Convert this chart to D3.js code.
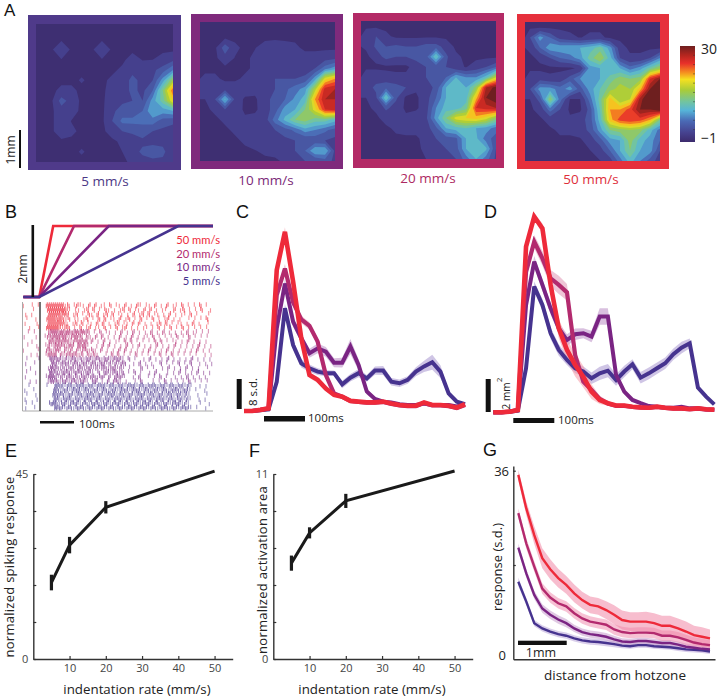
<!DOCTYPE html>
<html>
<head>
<meta charset="utf-8">
<script src="https://cdn.jsdelivr.net/npm/d3@7"></script>
<style>
    html, body { margin: 0; padding: 0; background: white; }
    text { font-family: "Open Sans", sans-serif; }
</style>
</head>
<body>
<script>
// panel A, value grids 14 x 14, row by row from the top
var heat5 = [
    0,0,0,0,0,0,0,0,0,0,0,0,0,0,
    0,0,0,0,0,0,0,0,0,0,0,0,0,0,
    0,0,2.9,0,0,0,2.9,0,0,0,0,0,0,0,
    0,0,0.4,0,0,0,0.3,0,0,1.5,0.4,0.5,1.5,2.5,
    0,0,0,0,0,0,0,0,1,2.5,2,2.5,4,7,
    0,0,0,0,0.7,0,0,1,2,3.5,2.5,3,8,15,
    0,0,1,1,0,0,0,1.5,2,3.5,2.5,5,13,23,
    0,0,4,2,0,0,0,2,2.5,3,3,8,12,19,
    0,0,2,1.5,0,0,0,2.5,4,4,5,9,8,9,
    0,0,2,0.4,0,0,0,3,5.5,5.5,5.5,6,4,3.5,
    0,0,2,1,0,0,0,1.5,3,3.5,4,3,2.5,2,
    0,0,0,0,0,0,0,0,1,1.5,2.5,2.5,2.5,1.5,
    0,0,0,0,0.7,0,0,0,0.5,2,3.5,4,3.5,1.5,
    0,0,0,0,0,0,0,0,0,1,2,2.5,2.5,1.5
];
var heat10 = [
    0,0,0,0,0,0,0,0,0,0,0,0,0,0,
    0,0,0,0,0,0,0,0,0,0,0,0,0,0,
    0,0,4.5,1,0,0.4,1.5,2,1.5,1,0,0,0,0,
    0,0,2,0.4,0,1,2,2.5,2.5,2,1.5,1.5,2,2.5,
    0,0,0,0,0,1,2,2.5,2.5,2,2,3,6,8,
    1,1,0,0,1,2,2.5,3,3,3,3.5,8,18,21,
    1.5,2.5,2,2,2,1.5,2.5,3,4.5,6,8,16,26,27,
    0.5,3,9.5,2.5,0,0,2.5,3.5,5,7.5,10,21,27,27,
    0,1,3,2,0,0,2,4,8,9,13,18,25,26,
    0,0,1,1.5,1,1.5,2,6,9.5,13,14,12,12,10,
    0,0,0,1,2,2.5,2.5,3,4,5.5,8,7,5.5,4,
    0,0,0,0,1,2,2.5,2.5,2.5,3,3,3.5,3,2.5,
    0,0,0,0,0,0.4,1,1.5,2,3,5,9,9,2.5,
    0,0,0,0,0,0,0,0,1,2,3,3,4,2.5
];
var heat20 = [
    0,0,0,0,0,0,0,0,0,0,0,0,0,0,
    2,3,1,0,0,0,0,0,0,0,0,0,0,0,
    0.8,3.5,3,3.5,3,3,4,4,2,0,0,0,0,0,
    0,1.5,4,3,3,4,4,11,3.5,1,0,0,0,0,
    0,0,0,0,0,1.5,3,3.5,3,1,0.4,1.5,3,5,
    2,2,1.5,1,1,1,3,3,5,9,7,7,10,17,
    2,3.5,4.5,4,3,1,2,3.5,9,9.5,9,14,27,30,
    0.5,2.5,11,3.5,0,0,2,5,9,9.5,10,20,29,31,
    0,1,3.5,2,0,0,2,7,10,10,12,25,26,27,
    0,0,1.5,1.5,1,2,2.5,8,13,18,19,20,18,14,
    0,0,0,1,1.5,1.5,2,4.5,9,10,11,9,8,6,
    0,0,0,0,0,0,1.5,3,4,4.5,9,9.5,6,4,
    0,0,0,0,0,0,1,2,3,4,9,10,9.5,3,
    0,0,0,0,0,0,0.5,1,2,3,6,9,6,2.5
];
var heat50 = [
    0,0,0,0,0,0,0,0,0,0,0,0,0,0,
    3,8,5,2,1,0.4,1,1,0,0,0,0,0,0,
    1,5,8.5,8.5,9,9,10,12,8,1.5,0,0,0,0,
    0,1,3,5,6,8,12,15,10,3,1,1,3,7,
    0,0,0,0,0,1,8,9,9,9,6,8,12,15,
    2,2,1,1.5,4,7,8,9,12,14,13,14,25,29,
    3,8,8,6,8,4,8,11,14,16,15,20,29,31,
    0.5,4,14,6,0.4,0.4,6,12,20,15,17,28,32,33,
    0,1.5,6,3,0,0,4,11,21,21,24,29,29,31,
    0,0,1.5,2,1,2,4,10,20,24,25,24,21,13,
    0,0,0,1,1,2,3.5,8,13,14,15,14,10,6,
    0,0,0,0,0,0,2,4,8,9,14,10,8,5,
    0,0,0,0,0,0,0.4,2,5,9,13,9,8,3,
    0,0,0,0,0,0,0,0.4,2,6,10,7,4,2
];
var heatLevels = [0.5, 3, 5, 7, 9, 11, 13, 15, 17, 19, 21, 23, 25, 27, 29];
var rampValues = [-1, 2, 5.8, 9.2, 12, 15.7, 19.2, 21.6, 24.4, 27, 30];
var rampColors = ["#3c2b6c", "#46428f", "#4a6ab5", "#56b4d8", "#72c4a0", "#a8cc3a", "#f5e020", "#f58a20", "#e8302a", "#b5261f", "#6e1f1f"];
var heatLabels = ["5 mm/s", "10 mm/s", "20 mm/s", "50 mm/s"];

// the four indentation rates, slowest first
var rates = [5, 10, 20, 50];
var rateColors = ["#46338f", "#7a2483", "#b32a6e", "#ee2a3a"];
var frameColors = ["#4f3a8a", "#7f2a7c", "#b32a66", "#e6303c"];

// panel B, one string per trial, one digit per 8.6 ms bin = spikes in that bin
var rasterRed = [
    "1..1.1..33333312.1211.2.2.11.2.11.2.1.21.11.2.1.2.11.2.1.1.2.1.1",
    "...1....33333321.11.12.2.1.21.1.12.2.11.2.2.1.11..2.12.1.1.2..1.1",
    "1.1.....3333232.12.1.21.2.12.2.11.1.2.12.2.11.1.2.1.11.2.1...1.1.",
    ".1..1...33323212.11.12.1.2.2.11.2.12.1.2.1.2.1.12.1.1..1.1.1.2.1.",
    "1...1...3333321.12.2.11.2.2.1.12.11.2.2.1.1.12.2.1.11.1.2.1..1.1.",
    "..1..1..33332122.1.2.12.11.2.1.2.12.1.1.11.1.2.1.2.1.2.1.1.1.1.1"
];
var rasterCrimson = [
    ".1.1....23323232232322.1.2.11.1.2.1.2.1.1.2.1.2.1.1.1.2.11.1.1",
    "1...1..1223323212322.21.2.2.1.1.2.1.2.1.11.2.1.1.1.2.1.2.1.1.1.",
    "..1.....3223232122323.2.1.2.1.11.2.2.1.1.1.2.2.1.11.1.2.1.1.1.1.",
    ".1..1..1212322132.3231..1.2.2.1.1.2.1.2.1.1.2.1.1.2.1.1.1.2.1.1",
    "1....1..22132.212.2122121.2.1.1.2.2.1.1.1.2.1.1.2.1.1.1.1.2.1.1",
    "..1.1..1323.21222212.2121..1.2.2.1.1.2.1.1.1.2.1.2.1.1.1.1..1.1."
];
var rasterPurple = [
    ".1...1...3222121221212212212212221.2.1..1.2.1.1.2.1.1.1.2.1.1.1.",
    "1..1.....3212221221221221221212122..1.2.1.1..2.1.1.2.1.2..1.1.1",
    "..1.....13221212212212212122122121.1...2.1.1..1.2.1.1.2.1.1..1.",
    ".1..1....322122212221221.2.2212212.1.2.1..1.2...1.1.2.1.1.2.1.1",
    "1......13321212212122122122.2.2221..1.2..1.1.2.1..1.1.2.1.1.1..",
    "..1.1...13221221221221.22.1.2.221.1..1.2...1.1.2.1.1.1.2.1.1.1"
];
var rasterBlue = [
    ".1.....1..3221221222122122212212212221221222122122122121..1.1.1",
    "1..1......3212212221221221221221222122212212212212221221.1..1.",
    ".1..1.....3222122122122212212221221221222122122122122121..1..1",
    "1...1.....3212221221222122122122212212221221222122122121..1.1.",
    ".1.1.....23212212221221222122122212212212221221221222121...1..1",
    "1..1......3221221222122122212212212221222122122212212221.1..1."
];
// per trial shift in bins, the trials do not start on a common grid
var trialShift = [0, 0.4, 0.8, 0.2, 0.6, 0.1, 0.7, 0.3, 0.9, 0.5, 0, 0.6, 0.2, 0.8, 0.4, 0.1, 0.7, 0.3, 0.9, 0.5, 0.2, 0.6, 0, 0.8];

// panel C, imaging response in s.d., one sample each 20 ms
var sampleTimes = d3.range(0, 560, 20);
var cBlue = [0,0,0.2,0.4,7.8,27.4,17.6,12.7,11.4,10.5,10.1,10.1,7.1,8.9,10.1,8.7,10.8,10.8,7.8,7.4,8.3,10.5,11.9,13,10.5,4.7,2.5,1.8];
var cPurple = [0,0,0.3,0.7,22,34,23.8,19.4,15.4,16.7,15.8,12.9,12.9,17.2,12.3,5.2,3.2,2.5,2.3,1.8,1.6,1.6,2,1.6,1.6,1.6,1.2,1.8];
var cCrimson = [0,0,0.3,0.7,30.9,38,29,24.4,22.7,18.5,9.6,4.7,3.8,2.7,2.4,2.2,2.2,2.4,1.9,1.5,1.3,1.3,2.1,1.5,1.5,1.3,0.8,1.6];
var cRed = [0,0,0.3,0.7,37.6,47.8,34.5,19.4,9.6,8.3,6,4.3,3.8,2.7,2.5,2.3,2.3,2.5,2,1.6,1.4,1.4,2.3,1.6,1.6,1.4,0.9,1.8];
var cBlueErr = [0,0,0,0.2,0.8,1.2,1.3,1.1,1,0.9,0.8,0.7,1,1,1.1,0.9,1.1,1.2,1,1,1,1.2,1.5,2,1.7,0.8,0.4,0.3];
var cPurpleErr = [0,0,0,0.2,1,1.3,1.3,1.2,1.2,1.3,1.3,1.2,1.3,2,1.5,0.8,0.4,0.3,0.2,0.2,0.2,0.2,0.2,0.2,0.2,0.2,0.2,0.2];
var cCrimsonErr = [0,0,0,0.2,1,1.2,1.2,1,1,1,0.9,0.6,0.4,0.3,0.2,0.2,0.2,0.2,0.2,0.2,0.2,0.2,0.2,0.2,0.2,0.2,0.2,0.2];
var cRedErr = [0,0,0,0.2,1,1.2,1.2,0.9,0.8,0.8,0.8,0.5,0.3,0.2,0.2,0.2,0.2,0.2,0.2,0.2,0.2,0.2,0.2,0.2,0.2,0.2,0.2,0.2];

// panel D, activated area in mm2
var dBlue = [0,0,0.04,0.1,2.67,7.62,6.51,4.79,3.78,3.17,2.67,2.47,2.06,2.36,2.52,1.96,2.47,2.91,2.1,2.36,2.67,2.97,3.52,3.92,4.18,1.5,0.95,0.48];
var dPurple = [0,0,0.04,0.14,6.5,9.13,7.72,6.3,5.09,4.38,4.73,4.79,4.59,5.8,5.8,2.26,1.25,0.75,0.55,0.38,0.34,0.28,0.28,0.34,0.24,0.24,0.18,0.16];
var dCrimson = [0,0,0.04,0.14,8.5,10.34,9.33,8.12,7.72,7.27,3.47,1.86,1.35,0.81,0.53,0.39,0.39,0.32,0.28,0.26,0.32,0.26,0.22,0.22,0.18,0.22,0.16,0.14];
var dRed = [0,0,0.04,0.14,10.04,11.86,11.15,7.72,5.09,3.78,2.87,2.16,1.25,0.75,0.55,0.41,0.41,0.34,0.3,0.28,0.34,0.28,0.24,0.24,0.2,0.24,0.18,0.16];
var dBlueErr = [0,0,0,0.02,0.2,0.3,0.35,0.35,0.35,0.3,0.3,0.3,0.35,0.4,0.4,0.35,0.35,0.3,0.35,0.35,0.35,0.35,0.35,0.35,0.3,0.15,0.1,0.05];
var dPurpleErr = [0,0,0,0.02,0.3,0.35,0.35,0.35,0.35,0.35,0.35,0.3,0.35,0.5,0.5,0.25,0.15,0.1,0.05,0.05,0.05,0.05,0.05,0.05,0.05,0.05,0.05,0.05];
var dCrimsonErr = [0,0,0,0.02,0.35,0.4,0.45,0.5,0.55,0.5,0.3,0.15,0.1,0.05,0.05,0.05,0.05,0.05,0.05,0.05,0.05,0.05,0.05,0.05,0.05,0.05,0.05,0.05];
var dRedErr = [0,0,0,0.02,0.2,0.2,0.3,0.5,0.6,0.65,0.7,0.65,0.45,0.25,0.15,0.1,0.1,0.05,0.05,0.05,0.05,0.05,0.05,0.05,0.05,0.05,0.05,0.05];

// panels E and F
var fitRates = [5, 10, 20, 50];
var spikeMean = [18.6, 27.7, 36.9, 45.7];
var spikeErr = [1.9, 2, 1.5, 0];
var areaMean = [5.7, 7.5, 9.4, 11.18];
var areaErr = [0.45, 0.33, 0.42, 0];
var rateTicks = [10, 20, 30, 40, 50];
var spikeTicks = [0, 9, 18, 27, 36, 45];
var areaTicks = [0, 2.2, 4.4, 6.6, 8.8, 11];

// panel G, response against distance
var gSteps = d3.range(25);
var gBlue = [14.8,11,6.9,5.9,5.3,4.8,4.5,4,3.6,3.4,3.3,3.1,2.9,2.6,2.5,2.7,2.7,2.5,2.4,2.3,2.1,1.9,1.8,1.7,1.5];
var gPurple = [21.3,16.4,12.3,9.7,8.5,7.6,6.9,5.9,5.2,4.8,4.6,4.3,3.8,3.4,3.3,3.5,3.5,3.3,3.1,3.1,2.8,2.4,2.2,2,1.9];
var gCrimson = [27.9,22.1,17.7,13.5,11.8,10.7,10.1,8.8,7.8,7.2,6.9,6.6,5.7,5.2,5,5.1,5.1,5,4.5,4.5,4.2,3.7,3.2,2.9,2.7];
var gRed = [35.2,28.8,23.7,19.3,17.2,15.5,14.2,12.6,11.3,10.4,10.1,9.4,8.5,7.5,7.2,7.2,7.2,6.9,6.4,6.4,5.9,5.3,4.6,4.3,4];
var gBlueErr = [0.8,0.7,0.6,0.6,0.6,0.6,0.6,0.6,0.6,0.6,0.6,0.6,0.6,0.5,0.5,0.5,0.5,0.5,0.5,0.5,0.5,0.5,0.5,0.5,0.5];
var gPurpleErr = [0.8,0.8,0.8,0.8,0.8,0.8,0.8,0.7,0.7,0.7,0.7,0.7,0.7,0.6,0.6,0.6,0.6,0.6,0.6,0.6,0.6,0.6,0.6,0.6,0.6];
var gCrimsonErr = [0.9,1,1,1,1,1,1,1,1,1,1,1,1,1,1,1,1,1,1,1,1,1,1,1,1];
var gRedErr = [1,1.3,1.7,1.9,1.9,1.8,1.7,1.7,1.6,1.6,1.6,1.7,1.8,1.8,1.8,1.8,1.9,1.9,1.9,1.9,1.9,1.9,1.8,1.8,1.7];

var svg = d3.select("body").append("svg")
    .attr("width", 728)
    .attr("height", 698)
    .style("display", "block");

function addText(str, x, y, size, color, anchor, rotate) {
    var t = svg.append("text")
        .attr("font-size", size)
        .attr("fill", color || "#222")
        .attr("text-anchor", anchor || "start")
        .text(str);
    if (rotate) t.attr("transform", "translate(" + x + "," + y + ") rotate(" + rotate + ")");
    else t.attr("x", x).attr("y", y);
    return t;
}

function blackBar(x, y, w, h) {
    svg.append("rect").attr("x", x).attr("y", y).attr("width", w).attr("height", h).attr("fill", "#111");
}

// letters
[["A", 4, 15.5, 17], ["B", 5, 218, 18], ["C", 236, 218, 18], ["D", 484, 218, 18], ["E", 5, 457, 18], ["F", 249, 457, 18], ["G", 483, 456, 18]]
    .forEach(function (d) {
        addText(d[0], d[1], d[2], d[3], "#111").style("font-family", "'Liberation Sans'");
    });

// ---- panel A
var heatColor = d3.scaleLinear().domain(rampValues).range(rampColors);
var heatGrids = [heat5, heat10, heat20, heat50];
var framesOuter = [[28, 15, 153, 155], [191, 14, 152, 155], [353, 13, 151, 155], [517, 14, 152, 155]];
var framesInner = [[36, 24, 137, 138], [200, 22, 135, 139], [361, 21, 135, 138], [525, 22, 135, 139]];
var labelX = [105, 266, 428, 591];
var labelY = [186, 185, 183, 184];

var contourGen = d3.contours().size([14, 14]).thresholds(heatLevels);
var defs = svg.append("defs");

heatGrids.forEach(function (grid, i) {
    var o = framesOuter[i], b = framesInner[i];
    svg.append("rect").attr("x", o[0]).attr("y", o[1]).attr("width", o[2]).attr("height", o[3])
        .attr("fill", frameColors[i]);
    svg.append("rect").attr("x", b[0]).attr("y", b[1]).attr("width", b[2]).attr("height", b[3])
        .attr("fill", heatColor(-0.5));
    defs.append("clipPath").attr("id", "heatclip" + i).append("rect")
        .attr("x", b[0]).attr("y", b[1]).attr("width", b[2]).attr("height", b[3]);

    // right and bottom edge sit on the last grid centres, so hot bands run out of the frame
    var px = d3.scaleLinear().domain([0, 13.5]).range([b[0], b[0] + b[2]]);
    var py = d3.scaleLinear().domain([0, 13.5]).range([b[1], b[1] + b[3]]);
    var path = d3.geoPath(d3.geoTransform({
        point: function (x, y) { this.stream.point(px(x), py(y)); }
    }));
    var g = svg.append("g").attr("clip-path", "url(#heatclip" + i + ")");
    g.selectAll("path")
        .data(contourGen(grid))
        .enter().append("path")
        .attr("d", path)
        .attr("fill", function (d) {
            // band takes the colour of its middle value
            return heatColor(d.value == 0.5 ? 1.8 : d.value + 1);
        });
    addText(heatLabels[i], labelX[i], labelY[i], 13.5, d3.color(frameColors[i]).darker(0.1), "middle");
});

// colour bar, same ramp
var barY = d3.scaleLinear().domain([-1, 30]).range([142, 46]);
var barGrad = defs.append("linearGradient").attr("id", "bargrad")
    .attr("x1", 0).attr("x2", 0).attr("y1", 1).attr("y2", 0);
barGrad.selectAll("stop").data(rampValues).enter().append("stop")
    .attr("offset", function (d) { return (d + 1) / 31; })
    .attr("stop-color", function (d, i) { return rampColors[i]; });
svg.append("rect").attr("x", 680).attr("y", 46).attr("width", 15).attr("height", 96).attr("fill", "url(#bargrad)");
svg.append("g").selectAll("line").data(d3.range(3, 30, 3)).enter().append("line")
    .attr("x1", 693).attr("x2", 695)
    .attr("y1", function (d) { return barY(d); }).attr("y2", function (d) { return barY(d); })
    .attr("stroke", "#333").attr("stroke-opacity", 0.5);
addText("30", 701, 54, 14, "#222");
addText("\u22121", 701, 143, 14, "#222");
blackBar(19, 130, 2, 38);
addText("1mm", 15, 150, 12, "#222", "middle", -90);

// ---- panel B
var rampX = d3.scaleLinear().domain([0, 500]).range([39.3, 213]);
var rampY = d3.scaleLinear().domain([0, 2]).range([297, 226]);
var rampLine = d3.line()
    .x(function (d) { return rampX(d[0]); })
    .y(function (d) { return rampY(d[1]); });
// red first, the slower ramps lie over it on the plateau
rates.slice().reverse().forEach(function (r, i) {
    var pts = [[-46, 0], [0, 0], [2 / r * 1000, 2], [500, 2]];
    svg.append("path").attr("d", rampLine(pts))
        .attr("fill", "none")
        .attr("stroke", rateColors[3 - i])
        .attr("stroke-width", 2.6);
});
blackBar(31.5, 225, 2.6, 72);
addText("2mm", 27, 269, 12, "#222", "middle", -90);
rates.slice().reverse().forEach(function (r, i) {
    addText(r + " mm/s", 220, [244, 257.5, 271, 284.5][i], 11.2, rateColors[3 - i], "end")
        .style("font-family", "Lato");
});

var rasterRows = rasterRed.concat(rasterCrimson, rasterPurple, rasterBlue);
var rasterColors = [rateColors[3], rateColors[2], rateColors[1], rateColors[0]];
var rasterBand = d3.scaleBand().domain(d3.range(rasterRows.length)).range([303, 410]);
var binX = d3.scaleLinear().domain([0, 63]).range([23, 212]);
var spikes = [];
rasterRows.forEach(function (row, r) {
    row.split("").forEach(function (c, b) {
        var n = c == "." ? 0 : +c;
        for (var k = 0; k < n; k++) {
            var pos = b + (k + 0.5) / n + trialShift[r] - 0.4;
            if (pos < 63) spikes.push({ row: r, bin: pos, n: n, group: Math.floor(r / 6), odd: (b + k) % 2 });
        }
    });
});
// ticks are taller than a row and stagger, as the trials overlap in the reference
svg.append("g").selectAll("line").data(spikes).enter().append("line")
    .attr("x1", function (d) { return binX(d.bin); })
    .attr("x2", function (d) { return binX(d.bin); })
    .attr("y1", function (d) { return rasterBand(d.row) + (d.odd ? -0.8 : 0.8); })
    .attr("y2", function (d) { return rasterBand(d.row) + rasterBand.bandwidth() + (d.odd ? -0.8 : 0.8); })
    .attr("stroke", function (d) { return rasterColors[d.group]; })
    .attr("stroke-width", 1.1)
    .attr("stroke-opacity", function (d) { return d.n > 1 ? 0.65 : 0.5; });
svg.append("path").attr("d", "M22.5,302V411H213").attr("fill", "none").attr("stroke", "#aaa").attr("stroke-width", 1);
svg.append("line").attr("x1", 40).attr("x2", 40).attr("y1", 302).attr("y2", 411).attr("stroke", "#111").attr("stroke-width", 1.2);
blackBar(40, 421, 34, 2.5);
addText("100ms", 79, 428, 11.5, "#222");

// ---- traces of C, D and G
function drawTraces(series, errs, fills, x, y, widths) {
    var times = x.domain()[1] == 24 ? gSteps : sampleTimes;
    var line = d3.line().x(function (d, i) { return x(times[i]); }).y(function (d) { return y(d); });
    series.forEach(function (vals, s) {
        var band = d3.area()
            .x(function (d, i) { return x(times[i]); })
            .y0(function (d, i) { return y(d - errs[s][i]); })
            .y1(function (d, i) { return y(d + errs[s][i]); });
        svg.append("path").attr("d", band(vals)).attr("fill", fills[s]).attr("fill-opacity", 0.55);
    });
    series.forEach(function (vals, s) {
        svg.append("path").attr("d", line(vals))
            .attr("fill", "none")
            .attr("stroke", rateColors[s])
            .attr("stroke-width", widths[s])
            .attr("stroke-linejoin", "miter")
            .attr("stroke-miterlimit", 3);
    });
}
var bandFills = ["#a796cf", "#b98cc4", "#e096b4", "#f59aa5"];
var traceWidths = [4, 4, 4.2, 4.6];

var cX = d3.scaleLinear().domain([0, 540]).range([244, 465]);
var cY = d3.scaleLinear().domain([0, 8]).range([411, 381]);
drawTraces([cBlue, cPurple, cCrimson, cRed], [cBlueErr, cPurpleErr, cCrimsonErr, cRedErr], bandFills, cX, cY, traceWidths);
blackBar(236.7, 379, 5, 30);
addText("8 s.d.", 257, 392, 11.5, "#222", "middle", -90);
blackBar(264, 416, 41, 5.5);
addText("100ms", 308, 422, 11.5, "#222");

var dX = d3.scaleLinear().domain([0, 540]).range([493.3, 714.3]);
var dY = d3.scaleLinear().domain([0, 2]).range([412.3, 379.3]);
drawTraces([dBlue, dPurple, dCrimson, dRed], [dBlueErr, dPurpleErr, dCrimsonErr, dRedErr], bandFills, dX, dY, traceWidths);
blackBar(485.7, 379, 5, 33);
addText("2 mm", 510, 396, 10, "#222", "middle", -90);
addText("2", 502, 380, 8, "#222", "middle", -90);
blackBar(513.3, 418, 41, 5);
addText("100ms", 558, 424, 11.5, "#222");

// ---- panels E and F
function drawRate(left, top, means, errs, yMax, yTicks, topLabel, yLabel, yLabelX, yLabelY, xLabelX) {
    var x = d3.scaleLinear().domain([0, 55]).range([left, left + 199.4]);
    var y = d3.scaleLinear().domain([0, yMax]).range([659, top]);
    var g = svg.append("g");
    var xAxis = g.append("g").attr("transform", "translate(0,659)")
        .call(d3.axisBottom(x).tickValues(rateTicks).tickSize(-3).tickSizeOuter(0).tickPadding(5));
    var yAxis = g.append("g").attr("transform", "translate(" + left + ",0)")
        .call(d3.axisLeft(y).tickValues(yTicks).tickSize(-3).tickSizeOuter(0).tickPadding(5)
            .tickFormat(function (d) { return d == 0 ? "0" : d == yMax ? topLabel : ""; }));
    [xAxis, yAxis].forEach(function (a) {
        a.select(".domain").attr("stroke", "#333").attr("stroke-width", 1.4);
        a.selectAll(".tick line").attr("stroke", "#333").attr("stroke-width", 1.2);
        a.selectAll("text").attr("font-family", "Open Sans").attr("font-size", 11).attr("fill", "#444");
    });
    var line = d3.line()
        .x(function (d, i) { return x(fitRates[i]); })
        .y(function (d) { return y(d); });
    g.append("path").attr("d", line(means)).attr("fill", "none").attr("stroke", "#1a1a1a").attr("stroke-width", 3);
    g.selectAll("rect.err").data(means).enter().filter(function (d, i) { return errs[i] > 0; }).append("rect")
        .attr("class", "err")
        .attr("x", function (d, i) { return x(fitRates[i]) - 1.6; })
        .attr("width", 3.2)
        .attr("y", function (d, i) { return y(d + errs[i]); })
        .attr("height", function (d, i) { return y(d - errs[i]) - y(d + errs[i]); })
        .attr("fill", "#1a1a1a");
    addText(yLabel, yLabelX, yLabelY, 13, "#222", "middle", -90).style("letter-spacing", "0.27px");
    addText("indentation rate (mm/s)", xLabelX, 694, 13.3, "#222", "middle");
}
drawRate(33.3, 474, spikeMean, spikeErr, 45, spikeTicks, "45", "normalized spiking response", 14, 567, 137);
drawRate(273.3, 474, areaMean, areaErr, 11, areaTicks, "11", "normalized activation area", 267, 570, 372);

// ---- panel G
var gX = d3.scaleLinear().domain([0, 24]).range([518.3, 710]);
var gY = d3.scaleLinear().domain([0, 36]).range([659.3, 470.7]);
var gFills = ["#b9a6d9", "#c79ccc", "#f08fb0", "#f086a6"];
svg.append("g").attr("transform", "translate(0,659.3)")
    .call(d3.axisBottom(d3.scaleLinear().domain([0, 1]).range([513.3, 715])).tickValues([]).tickSizeOuter(0))
    .select(".domain").attr("stroke", "#333").attr("stroke-width", 1.4);
var gAxis = svg.append("g").attr("transform", "translate(513.3,0)")
    .call(d3.axisLeft(d3.scaleLinear().domain([0, 36.9]).range([659.3, 466])).tickValues([18, 36]).tickSize(-2.5).tickSizeOuter(0)
        .tickFormat(function (d) { return ""; }));
gAxis.select(".domain").attr("stroke", "#333").attr("stroke-width", 1.4);
gAxis.selectAll(".tick line").attr("stroke", "#333").attr("stroke-width", 1.2);
drawTraces([gBlue, gPurple, gCrimson, gRed], [gBlueErr, gPurpleErr, gCrimsonErr, gRedErr], gFills, gX, gY, [2.4, 2.4, 2.4, 2.4]);
blackBar(518, 640.7, 48.7, 4.3);
addText("1mm", 541, 657, 12.5, "#222", "middle");
addText("36", 509, 476, 13, "#222", "end");
addText("0", 506, 660, 13, "#222", "end");
addText("response (s.d.)", 502, 567, 13, "#222", "middle", -90);
addText("distance from hotzone", 615, 680, 13.5, "#222", "middle");
</script>
</body>
</html>
